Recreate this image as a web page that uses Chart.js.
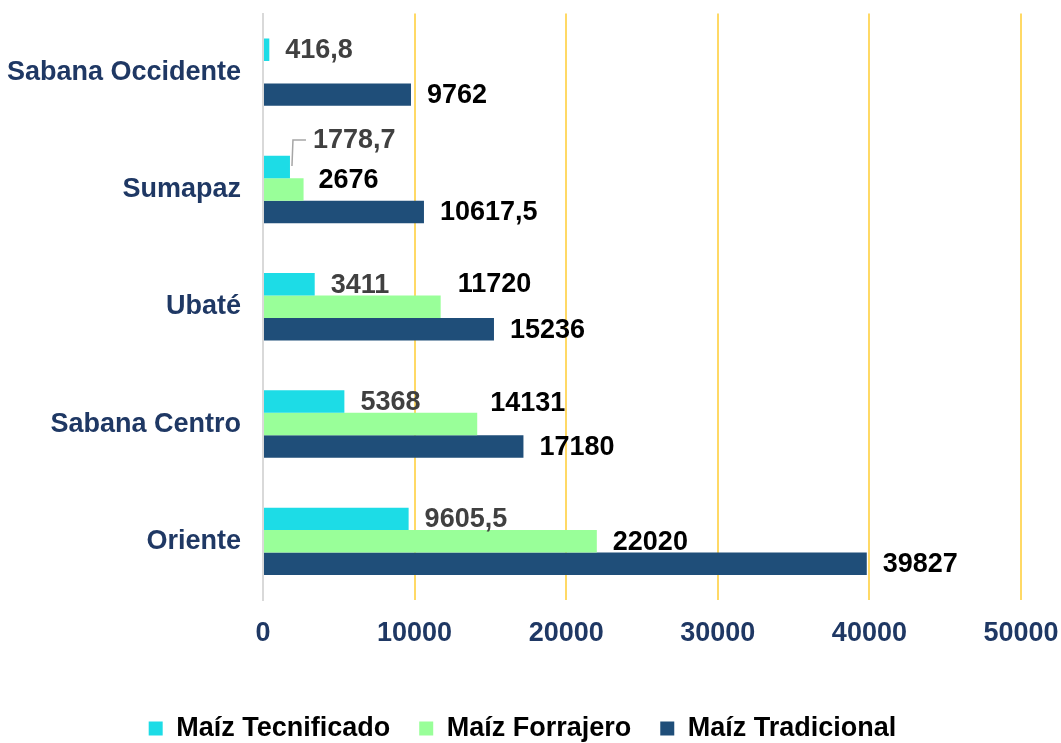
<!DOCTYPE html>
<html>
<head>
<meta charset="utf-8">
<script src="https://cdn.jsdelivr.net/npm/chart.js@4"></script>
<style>
  html, body { margin: 0; padding: 0; background: #fff; }
</style>
</head>
<body>
<canvas id="grafico" width="1061" height="743"></canvas>
<script>
const categorias = ["Sabana Occidente", "Sumapaz", "Ubaté", "Sabana Centro", "Oriente"];
const tecnificado = [416.8, 1778.7, 3411, 5368, 9605.5];
const forrajero = [null, 2676, 11720, 14131, 22020];
const tradicional = [9762, 10617.5, 15236, 17180, 39827];
const series = ["Maíz Tecnificado", "Maíz Forrajero", "Maíz Tradicional"];
const ejeMin = 0;
const ejeMax = 50000;
const ejePaso = 10000;

const fuente = "'Liberation Sans', Arial, sans-serif";
const azulTexto = "#1F3864";

// ajustes manuales de etiquetas que se solapan (dataset-indice)
const ajustesEtiqueta = {
  "0-1": { dx: 23, dy: -27, guia: true },
  "1-1": { dx: 15, dy: -10 },
  "1-2": { dx: 17, dy: -23 },
  "1-3": { dx: 13, dy: -22 },
};
const coloresEtiqueta = ["#404040", "#000000", "#000000"];

function formatoNum(v) {
  return String(v).replace(".", ",");
}

const etiquetasPlugin = {
  id: "etiquetas",
  afterLayout(chart) {
    // la leyenda del original está algo corrida a la derecha
    chart.legend.left += 12;
    chart.legend.right += 12;
  },
  afterDatasetsDraw(chart) {
    const ctx = chart.ctx;
    ctx.save();
    ctx.font = "bold 27px " + fuente;
    ctx.textBaseline = "middle";
    ctx.textAlign = "left";
    chart.data.datasets.forEach((ds, di) => {
      const meta = chart.getDatasetMeta(di);
      meta.data.forEach((el, i) => {
        const v = ds.data[i];
        if (v === null || v === undefined) return;
        const aj = ajustesEtiqueta[di + "-" + i] || { dx: 16, dy: 0 };
        const x = el.x + aj.dx;
        const y = el.y + aj.dy;
        if (aj.guia) {
          ctx.strokeStyle = "#A6A6A6";
          ctx.lineWidth = 1.5;
          ctx.beginPath();
          ctx.moveTo(el.x + 2, el.y - 1);
          ctx.lineTo(el.x + 3, y);
          ctx.lineTo(x - 7, y);
          ctx.stroke();
        }
        ctx.fillStyle = coloresEtiqueta[di];
        ctx.fillText(formatoNum(v), x, y + 1);
      });
    });
    ctx.restore();
  },
};

const canvas = document.getElementById("grafico");

new Chart(canvas, {
  type: "bar",
  data: {
    labels: categorias,
    datasets: [
      { label: series[0], data: tecnificado, backgroundColor: "#1DDCE6" },
      { label: series[1], data: forrajero, backgroundColor: "#99FF99" },
      { label: series[2], data: tradicional, backgroundColor: "#1F4E79" },
    ],
  },
  options: {
    indexAxis: "y",
    responsive: false,
    animation: false,
    devicePixelRatio: 1,
    categoryPercentage: 0.575,
    barPercentage: 1,
    layout: { padding: { top: 13, right: 40, left: 0, bottom: 0 } },
    plugins: {
      tooltip: { enabled: false },
      legend: {
        position: "bottom",
        maxHeight: 57,
        labels: {
          boxWidth: 14,
          boxHeight: 14,
          padding: 29,
          color: "#000",
          font: { family: fuente, size: 27, weight: "bold" },
        },
      },
    },
    scales: {
      x: {
        min: ejeMin,
        max: ejeMax,
        afterFit: (s) => { s.height = 86; },
        ticks: {
          stepSize: ejePaso,
          padding: 0,
          color: azulTexto,
          font: { family: fuente, size: 27, weight: "bold" },
          callback: (v) => String(v),
        },
        grid: {
          drawTicks: true,
          tickLength: 17,
          tickColor: "rgba(0,0,0,0)",
          lineWidth: 2,
          color: (c) => (c.tick && c.tick.value === 0 ? "rgba(0,0,0,0)" : "#FFD966"),
        },
        border: { display: false },
      },
      y: {
        afterFit: (s) => { s.width = 263; },
        ticks: {
          padding: 0,
          color: azulTexto,
          font: { family: fuente, size: 27, weight: "bold", lineHeight: 1 },
        },
        grid: { display: false, drawTicks: true, tickLength: 22 },
        border: { display: true, color: "#D9D9D9", width: 2 },
      },
    },
  },
  plugins: [etiquetasPlugin],
});
</script>
</body>
</html>
